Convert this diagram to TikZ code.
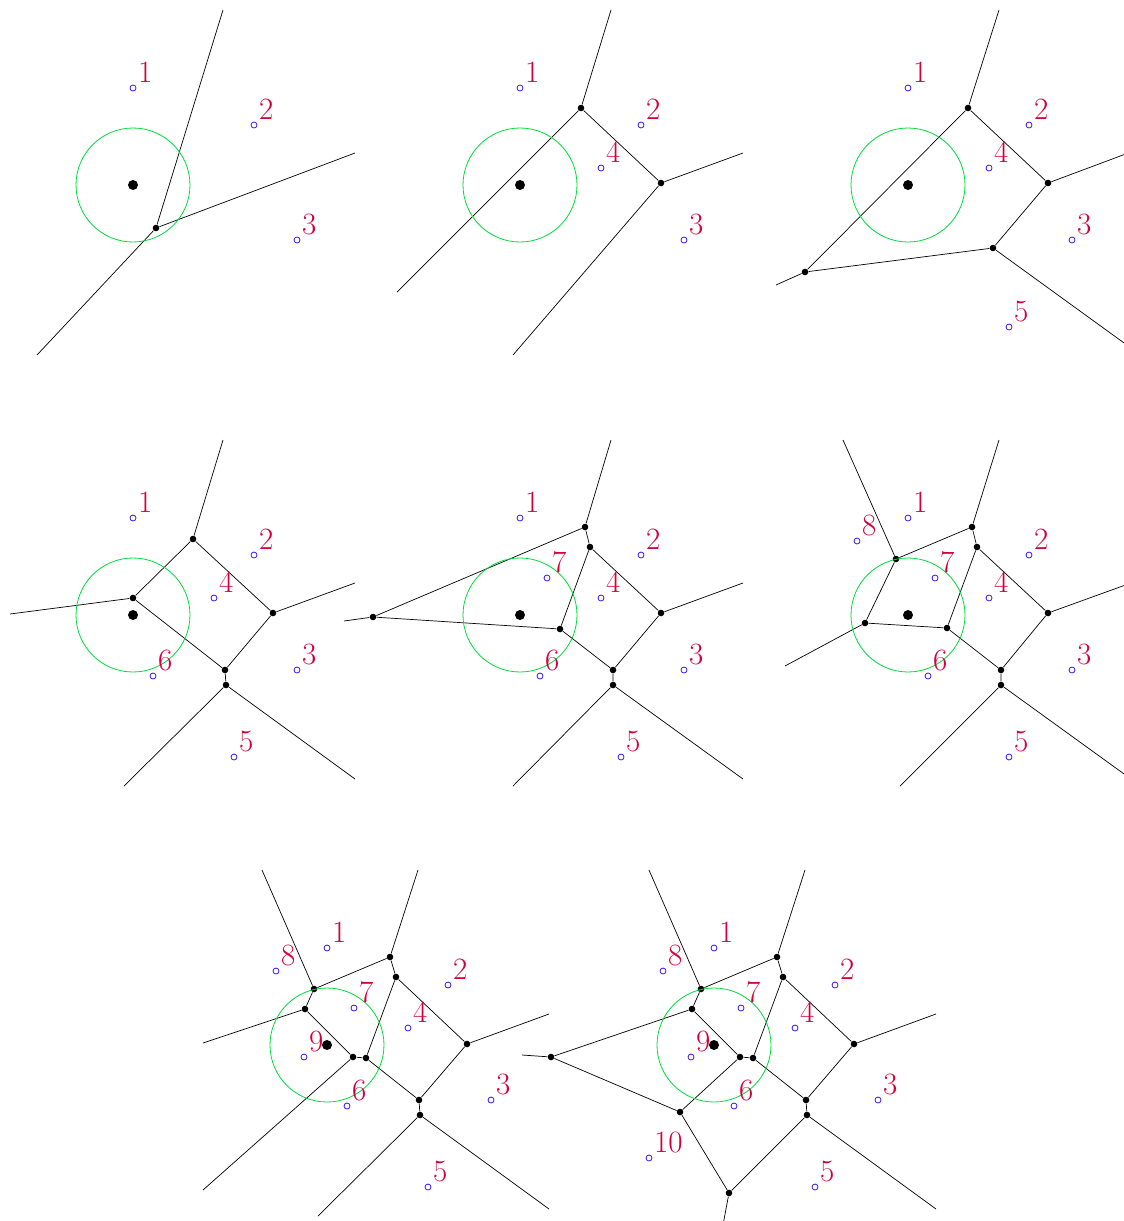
\documentclass[tikz,border=0pt]{standalone}
\usepackage{xcolor}
\usepackage{tikz}
\definecolor{sitecol}{HTML}{3C14F0}
\definecolor{numcol}{HTML}{D2003C}
\definecolor{ringcol}{HTML}{00DC3C}

% x/y of every site and its number
\newcommand{\sitelist}{133/88/1,254/125/2,297/240/3,214/168/4,234/327/5,153/246/6,160/148/7,82/111/8,110/197/9,68/298/10}
% sites 1..#1, the ring and the query point
\newcommand{\putsites}[1]{%
  \node[ring] (ring) at (133,185) {};
  \foreach \px/\py/\k in \sitelist {\ifnum\k>#1\relax\else
    \node[site,label={[num]45:\k}] (s\k) at (\px,\py) {};\fi}
  \node[query] (q) at (133,185) {};}

\begin{document}
\begin{tikzpicture}[x=0.5pt,y=-0.5pt]
\tikzset{site/.style={circle,draw=sitecol,line width=0.4pt,inner sep=0,minimum size=3pt},
  num/.style={text=numcol,font=\fontsize{15.5}{18}\selectfont,inner sep=1.2pt},
  vx/.style={circle,fill=black,inner sep=0,minimum size=3.3pt},
  query/.style={circle,fill=black,inner sep=0,minimum size=5pt},
  ring/.style={circle,draw=ringcol,line width=0.4pt,inner sep=0,minimum size=57pt},
  edge/.style={draw=black,line width=0.35pt}}
\useasboundingbox (0,0) rectangle (1124,1221);

% step 1
\begin{scope}[shift={(0,0)}]
\node[vx] (a) at (156,228) {};
\coordinate (a1) at (223,10); \coordinate (a2) at (355,153); \coordinate (a3) at (37,355);
\draw[edge] (a) -- (a1) (a) -- (a2) (a) -- (a3);
\putsites{3}
\end{scope}

% step 2
\begin{scope}[shift={(387,0)}]
\node[vx] (b) at (194,108) {};
\node[vx] (d) at (274,183) {};
\coordinate (b1) at (224,10); \coordinate (b2) at (10,292);
\coordinate (d1) at (356,153); \coordinate (d2) at (126,355);
\draw[edge] (b) -- (d) (b) -- (b1) (b) -- (b2) (d) -- (d1) (d) -- (d2);
\putsites{4}
\end{scope}

% step 3
\begin{scope}[shift={(775,0)}]
\node[vx] (b) at (193,108) {};
\node[vx] (d) at (273,183) {};
\node[vx] (e) at (218,248) {};
\node[vx] (f) at (30,272) {};
\coordinate (b1) at (224,10); \coordinate (d1) at (356,152);
\coordinate (e1) at (356,348); \coordinate (f1) at (1,285);
\draw[edge] (b) -- (d) -- (e) -- (f) -- (b);
\draw[edge] (b) -- (b1) (d) -- (d1) (e) -- (e1) (f) -- (f1);
\putsites{5}
\end{scope}

% step 4
\begin{scope}[shift={(0,430)}]
\node[vx] (g) at (133,168) {};
\node[vx] (b) at (193,109) {};
\node[vx] (d) at (273,183) {};
\node[vx] (h) at (225,240) {};
\node[vx] (k) at (226,255) {};
\coordinate (b1) at (223,10); \coordinate (g1) at (10,184); \coordinate (d1) at (355,153);
\coordinate (k1) at (124,356); \coordinate (k2) at (355,349);
\draw[edge] (g) -- (b) -- (d) -- (h) -- (g) (h) -- (k);
\draw[edge] (b) -- (b1) (g) -- (g1) (d) -- (d1) (k) -- (k1) (k) -- (k2);
\putsites{6}
\end{scope}

% step 5
\begin{scope}[shift={(387,430)}]
\node[vx] (m) at (198,97) {};
\node[vx] (n) at (203,117) {};
\node[vx] (p) at (173,199) {};
\node[vx] (l) at (-14,187) {};
\node[vx] (d) at (274,183) {};
\node[vx] (h) at (226,240) {};
\node[vx] (k) at (226,255) {};
\coordinate (m1) at (224,10); \coordinate (l1) at (-43,191); \coordinate (d1) at (356,153);
\coordinate (k1) at (126,356); \coordinate (k2) at (356,349);
\draw[edge] (l) -- (m) -- (n) -- (p) -- (l) (n) -- (d) -- (h) -- (p) (h) -- (k);
\draw[edge] (m) -- (m1) (l) -- (l1) (d) -- (d1) (k) -- (k1) (k) -- (k2);
\putsites{7}
\end{scope}

% step 6
\begin{scope}[shift={(775,430)}]
\node[vx] (r) at (121,129) {};
\node[vx] (t) at (90,193) {};
\node[vx] (u) at (172,198) {};
\node[vx] (m) at (197,97) {};
\node[vx] (n) at (202,117) {};
\node[vx] (d) at (273,183) {};
\node[vx] (h) at (226,240) {};
\node[vx] (k) at (226,255) {};
\coordinate (r1) at (68,10); \coordinate (t1) at (10,236); \coordinate (m1) at (224,10);
\coordinate (d1) at (356,153); \coordinate (k1) at (125,356); \coordinate (k2) at (356,349);
\draw[edge] (r) -- (m) -- (n) -- (u) -- (t) -- (r) (n) -- (d) -- (h) -- (u) (h) -- (k);
\draw[edge] (r) -- (r1) (t) -- (t1) (m) -- (m1) (d) -- (d1) (k) -- (k1) (k) -- (k2);
\putsites{8}
\end{scope}

% step 7
\begin{scope}[shift={(194,860)}]
\node[vx] (r) at (120,129) {};
\node[vx] (v) at (111,149) {};
\node[vx] (w) at (159,197) {};
\node[vx] (u) at (172,198) {};
\node[vx] (m) at (196,97) {};
\node[vx] (n) at (202,117) {};
\node[vx] (d) at (273,184) {};
\node[vx] (h) at (225,240) {};
\node[vx] (k) at (226,255) {};
\coordinate (r1) at (68,10); \coordinate (v1) at (9,183); \coordinate (w1) at (9,330);
\coordinate (m1) at (224,10); \coordinate (d1) at (355,154);
\coordinate (k1) at (124,356); \coordinate (k2) at (355,349);
\draw[edge] (r) -- (m) -- (n) -- (u) -- (w) -- (v) -- (r) (n) -- (d) -- (h) -- (u) (h) -- (k);
\draw[edge] (r) -- (r1) (v) -- (v1) (w) -- (w1) (m) -- (m1) (d) -- (d1) (k) -- (k1) (k) -- (k2);
\putsites{9}
\end{scope}

% step 8
\begin{scope}[shift={(581,860)}]
\node[vx] (r) at (120,129) {};
\node[vx] (v) at (111,149) {};
\node[vx] (w) at (159,197) {};
\node[vx] (u) at (172,198) {};
\node[vx] (m) at (196,97) {};
\node[vx] (n) at (202,117) {};
\node[vx] (d) at (273,184) {};
\node[vx] (h) at (225,240) {};
\node[vx] (k) at (226,255) {};
\node[vx] (o) at (-30,197) {};
\node[vx] (j) at (99,252) {};
\node[vx] (z) at (148,333) {};
\coordinate (r1) at (68,10); \coordinate (o1) at (-59,195); \coordinate (z1) at (142,365);
\coordinate (m1) at (224,10); \coordinate (d1) at (355,154); \coordinate (k2) at (355,349);
\draw[edge] (r) -- (m) -- (n) -- (u) -- (w) -- (v) -- (r) (n) -- (d) -- (h) -- (u) (h) -- (k);
\draw[edge] (v) -- (o) -- (j) -- (w) (j) -- (z) -- (k);
\draw[edge] (r) -- (r1) (o) -- (o1) (z) -- (z1) (m) -- (m1) (d) -- (d1) (k) -- (k2);
\putsites{10}
\end{scope}
\end{tikzpicture}
\end{document}
